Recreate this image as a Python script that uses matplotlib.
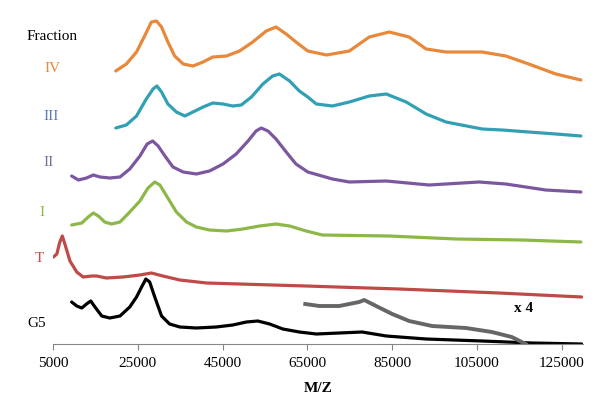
import matplotlib.pyplot as plt

# M/Z positions and heights (arbitrary units, stacked offsets already included)
iv_x = [19800, 22300, 24700, 26600, 28200, 29400, 30600, 32100, 33700, 35700, 38000,
        40400, 42700, 45900, 49000, 52100, 55300, 57600, 60000, 62300, 65100, 69500,
        74900, 79600, 84300, 89000, 93000, 97700, 106200, 111800, 117200, 123600, 129500]
iv_y = [273, 280, 292, 308, 322, 323, 317, 302, 288, 280, 278,
        282, 287, 288, 293, 302, 313, 317, 310, 302, 293, 289,
        293, 307, 312, 307, 295, 292, 292, 288, 280, 270, 264]

iii_x = [19800, 22300, 24700, 27000, 28600, 29500, 30600, 32100, 34100, 36100, 38000,
         40400, 42700, 45100, 47400, 49400, 51800, 54500, 56800, 58400, 60800, 63100,
         65100, 67100, 70900, 74900, 79600, 83600, 88300, 93000, 97700, 106200, 110900,
         117200, 123600, 129500]
iii_y = [216, 219, 228, 245, 255, 258, 252, 240, 232, 228, 232,
         237, 241, 240, 238, 239, 247, 260, 268, 270, 263, 253,
         247, 240, 238, 242, 248, 250, 242, 230, 222, 215, 214,
         212, 210, 208]

ii_x = [9400, 11000, 12900, 14500, 16100, 18400, 20800, 23100, 25500, 27200, 28500,
        29800, 31400, 33300, 35700, 38800, 41900, 45100, 48200, 51000, 52900, 54100,
        55700, 57600, 60000, 62300, 65100, 70900, 74900, 83600, 93700, 105500, 111800,
        121200, 129500]
ii_y = [168, 164, 166, 169, 167, 166, 167, 175, 188, 200, 203,
        198, 188, 177, 172, 170, 173, 180, 190, 203, 213, 216,
        213, 205, 192, 180, 172, 165, 162, 163, 159, 162, 160,
        154, 152]

i_x = [9400, 11800, 13300, 14500, 15700, 17200, 18800, 20800, 23100, 25500, 27400,
       29000, 30200, 31800, 34100, 36500, 38800, 41900, 45900, 49800, 53700, 57600,
       60800, 64700, 68500, 84300, 100100, 115600, 129500]
i_y = [119, 121, 127, 131, 128, 122, 120, 122, 132, 143, 156,
       162, 159, 148, 132, 122, 117, 114, 113, 115, 118, 120,
       118, 113, 109, 108, 105, 104, 102]

t_x = [5100, 5900, 6600, 7200, 7800, 9000, 10600, 12100, 14100, 15300, 17600,
       21500, 25500, 28200, 30900, 34900, 41200, 49000, 56800, 64700, 86600, 110200,
       129700]
t_y = [87, 90, 102, 108, 100, 83, 72, 67, 68, 68, 66,
       67, 69, 71, 68, 64, 61, 60, 59, 58, 55, 51,
       47]

g5_x = [9400, 10600, 11800, 12900, 13900, 14900, 16500, 18400, 20800, 23100, 24700,
        25900, 26900, 27800, 29000, 30600, 32500, 34900, 38800, 43500, 47400, 50600,
        53300, 56100, 59200, 63100, 67100, 77900, 83600, 93000, 106200, 117900, 129700]
g5_y = [42, 38, 36, 40, 43, 37, 28, 26, 28, 37, 47,
        57, 65, 62, 47, 28, 20, 17, 16, 17, 19, 22,
        23, 20, 15, 12, 10, 12, 8, 5, 3, 1, 0]

# G5 high-mass region magnified x4
g5x4_x = [64500, 67800, 72500, 77200, 78400, 81200, 85000, 89000, 94400, 102400,
          108500, 113200, 116500]
g5x4_y = [40, 38, 38, 42, 44, 38, 30, 23, 18, 16, 12, 7, 0]

ticks = [5000, 25000, 45000, 65000, 85000, 105000, 125000]

serif = 'Liberation Serif'

fig = plt.figure(figsize=(6, 4.02), dpi=100)
ax = fig.add_axes([53/600, 57/402, 530/600, 345/402])

lw = 2.3
kw = dict(lw=lw, solid_joinstyle='round', solid_capstyle='round')
ax.plot(iv_x, iv_y, color='#E8883A', **kw)
ax.plot(iii_x, iii_y, color='#31A0B5', **kw)
ax.plot(ii_x, ii_y, color='#7B57A0', **kw)
ax.plot(i_x, i_y, color='#8DB849', **kw)
ax.plot(t_x, t_y, color='#BE4B48', **kw)
ax.plot(g5_x, g5_y, color='black', **kw)
ax.plot(g5x4_x, g5x4_y, color='#666666', lw=2.8, solid_joinstyle='round')

ax.set_xlim(5000, 130000)
ax.set_ylim(0, 345)
for s in ['left', 'top', 'right']:
    ax.spines[s].set_visible(False)
ax.spines['bottom'].set_color('#868686')
ax.set_yticks([])
ax.set_xticks(ticks)
ax.set_xticklabels([str(t) for t in ticks], family=serif, fontsize=11)
ax.tick_params(axis='x', direction='out', length=4, color='#868686', pad=5)
ax.set_xlabel('M/Z', family=serif, fontsize=11, fontweight='bold', labelpad=8)

def lab(x, y, s, c, **kw):
    fig.text(x/600, 1 - y/402, s, color=c, family=serif, fontsize=11,
             ha='center', va='center', **kw)

lab(52, 36, 'Fraction', 'black')
lab(52, 68, 'IV', '#E8883A')
lab(51, 116, 'III', '#5A78B4')
lab(49, 163, 'II', '#7B6AA0')
lab(42, 212, 'I', '#8DB849')
lab(39, 259, 'T', '#C0504D')
lab(37, 324, 'G5', 'black')
lab(524, 309, 'x 4', 'black', fontweight='bold')

fig.savefig('out.png', dpi=100)
